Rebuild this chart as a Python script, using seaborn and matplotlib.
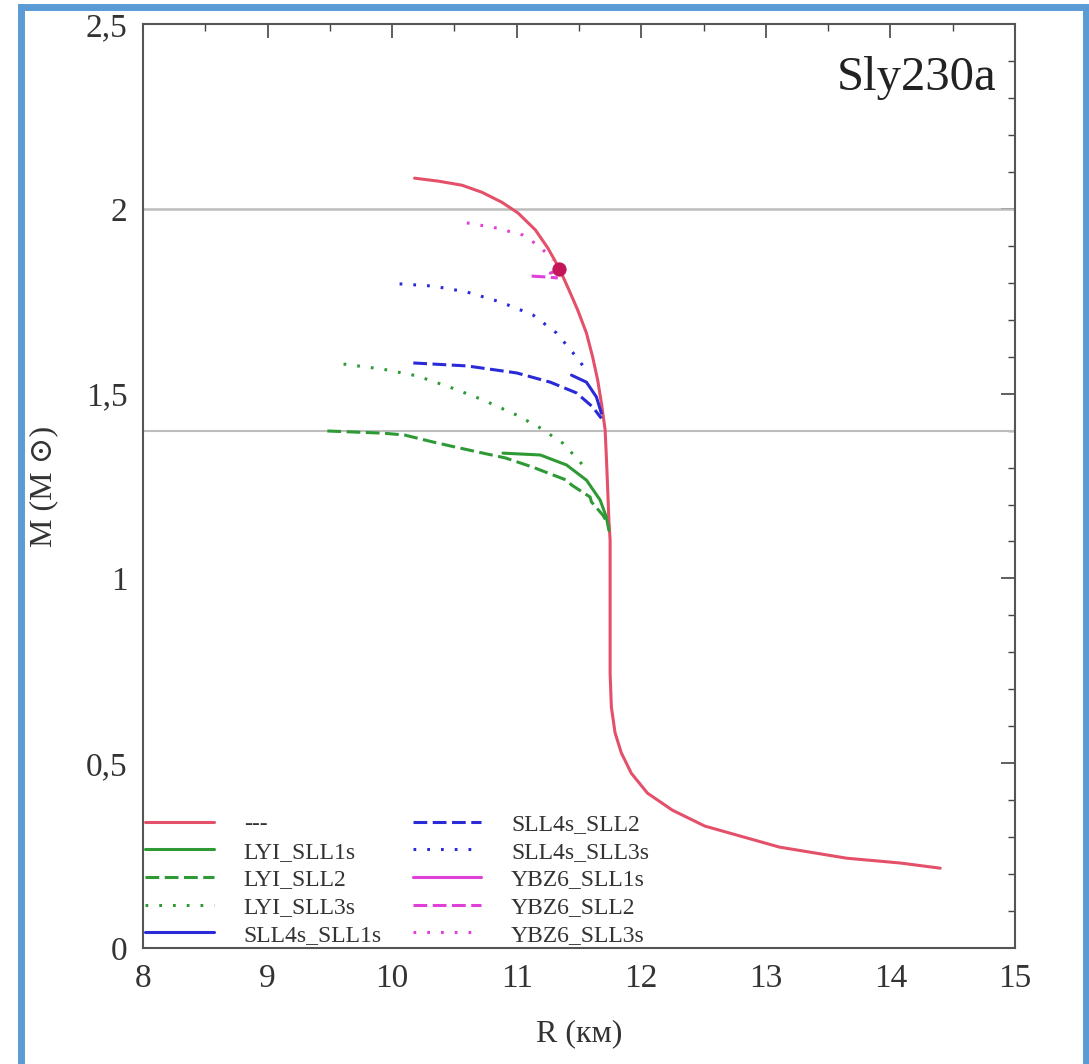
import matplotlib
matplotlib.use("Agg")
import numpy as np
import pandas as pd
import matplotlib.pyplot as plt
import seaborn as sns
from matplotlib.patches import Rectangle
from matplotlib.ticker import MultipleLocator, FuncFormatter

# --- data (R in km, M in solar masses) ---
sly_R = [10.18, 10.37, 10.56, 10.72, 10.88, 11.01, 11.15, 11.25, 11.34, 11.41,
         11.49, 11.56, 11.61, 11.65, 11.68, 11.71, 11.72, 11.73, 11.74, 11.75,
         11.75, 11.75, 11.75, 11.76, 11.79, 11.84, 11.92, 12.05, 12.25, 12.51,
         12.91, 13.11, 13.65, 14.08, 14.40]
sly_M = [2.083, 2.075, 2.064, 2.045, 2.018, 1.989, 1.943, 1.894, 1.840, 1.788,
         1.726, 1.664, 1.599, 1.537, 1.475, 1.402, 1.328, 1.247, 1.158, 1.104,
         0.969, 0.833, 0.744, 0.652, 0.582, 0.528, 0.473, 0.419, 0.373, 0.330,
         0.292, 0.273, 0.243, 0.230, 0.216]

lyi1_R = [10.89, 11.19, 11.40, 11.56, 11.67, 11.72, 11.74]
lyi1_M = [1.339, 1.334, 1.307, 1.266, 1.212, 1.166, 1.13]
lyi2_R = [9.48, 9.93, 10.10, 10.33, 10.50, 10.73, 10.91, 11.13, 11.23, 11.40,
          11.44, 11.59, 11.60, 11.69, 11.73]
lyi2_M = [1.399, 1.393, 1.388, 1.369, 1.356, 1.339, 1.326, 1.301, 1.288, 1.266,
          1.253, 1.220, 1.207, 1.172, 1.150]
lyi3_R = [9.61, 9.93, 10.20, 10.46, 10.73, 11.00, 11.19, 11.37, 11.48, 11.55]
lyi3_M = [1.580, 1.566, 1.548, 1.518, 1.483, 1.442, 1.407, 1.366, 1.326, 1.299]

sll1_R = [11.44, 11.56, 11.64, 11.68]
sll1_M = [1.550, 1.531, 1.491, 1.447]
sll2_R = [10.17, 10.60, 11.00, 11.27, 11.48, 11.61, 11.68]
sll2_M = [1.583, 1.575, 1.556, 1.531, 1.502, 1.464, 1.433]
sll3_R = [10.06, 10.33, 10.60, 10.87, 11.13, 11.32, 11.48, 11.57]
sll3_M = [1.797, 1.791, 1.775, 1.748, 1.713, 1.664, 1.599, 1.558]

ybz1_R = [11.27, 11.34]
ybz1_M = [1.826, 1.835]
ybz2_R = [11.12, 11.22, 11.33]
ybz2_M = [1.818, 1.816, 1.813]
ybz3_R = [10.60, 10.84, 11.05, 11.19, 11.29]
ybz3_M = [1.962, 1.948, 1.929, 1.897, 1.861]

dot_R = [11.34]
dot_M = [1.837]

red = "#e4506a"
green = "#2e9a36"
blue = "#2a2ad8"
magenta = "#e040d8"

dashed = (0, (4.5, 1.8))
dotted = (0, (0.9, 3.6))

series = [
    ("---", sly_R, sly_M, red, "-"),
    ("LYI_SLL1s", lyi1_R, lyi1_M, green, "-"),
    ("LYI_SLL2", lyi2_R, lyi2_M, green, dashed),
    ("LYI_SLL3s", lyi3_R, lyi3_M, green, dotted),
    ("SLL4s_SLL1s", sll1_R, sll1_M, blue, "-"),
    ("SLL4s_SLL2", sll2_R, sll2_M, blue, dashed),
    ("SLL4s_SLL3s", sll3_R, sll3_M, blue, dotted),
    ("YBZ6_SLL1s", ybz1_R, ybz1_M, magenta, "-"),
    ("YBZ6_SLL2", ybz2_R, ybz2_M, magenta, dashed),
    ("YBZ6_SLL3s", ybz3_R, ybz3_M, magenta, dotted),
]

sns.set_style("white")
plt.rcParams['font.family'] = ['Liberation Serif', 'DejaVu Serif']

fig = plt.figure(figsize=(10.89, 10.64), dpi=100)
ax = fig.add_axes([0.1313, 0.109, 0.8007, 0.8684])

ax.axhline(2.0, color="#bdbdbd", lw=1.8, zorder=1)
ax.axhline(1.4, color="#bdbdbd", lw=1.5, zorder=1)

# estimator=None keeps the points in order (curves double back in R)
for name, r, m, c, ls in series:
    df = pd.DataFrame({"R": r, "M": m})
    sns.lineplot(data=df, x="R", y="M", sort=False, estimator=None, color=c, lw=2.2,
                 linestyle=ls, label=name, ax=ax, zorder=3,
                 solid_joinstyle="round", solid_capstyle="round")

sns.scatterplot(x=dot_R, y=dot_M, color="#c4145a", s=90, edgecolor="#c4145a",
                ax=ax, zorder=5, legend=False)

ax.set_xlim(8, 15)
ax.set_ylim(0, 2.5)
ax.xaxis.set_major_locator(MultipleLocator(1))
ax.xaxis.set_minor_locator(MultipleLocator(0.5))
ax.yaxis.set_major_locator(MultipleLocator(0.5))
ax.yaxis.set_minor_locator(MultipleLocator(0.1))
ax.yaxis.set_major_formatter(FuncFormatter(lambda v, p: f"{v:g}".replace(".", ",")))
ax.tick_params(which="both", direction="in", top=True, right=True, color="#444444",
               labelsize=24, labelcolor="#333333")
ax.tick_params(which="major", length=10, width=1.2, pad=11)
ax.tick_params(which="minor", length=5, width=1.0)
for sp in ax.spines.values():
    sp.set_color("#555555")
    sp.set_linewidth(1.5)

ax.set_xlabel("R (км)", fontsize=23, color="#333333", labelpad=18)
ax.set_ylabel("M (M ⊙)", fontsize=23, color="#333333", labelpad=20)

ax.text(0.979, 0.942, "Sly230a", transform=ax.transAxes, ha="right", va="center",
        fontsize=35, color="#222222")

leg = ax.legend(loc="lower left", ncol=2, frameon=False, fontsize=17,
                handlelength=2.9, handletextpad=1.27, columnspacing=1.3,
                labelspacing=0.26, borderpad=0.1, borderaxespad=0.0,
                bbox_to_anchor=(0.0, 0.0))
for t in leg.get_texts():
    t.set_color("#333333")

# blue frame around the figure
fig.patches.append(Rectangle((0.0195, -0.05), 0.978, 1.043, transform=fig.transFigure,
                             fill=False, edgecolor="#5b9bd5", lw=5, zorder=10))

fig.savefig("out.png", dpi=100, facecolor="white")
